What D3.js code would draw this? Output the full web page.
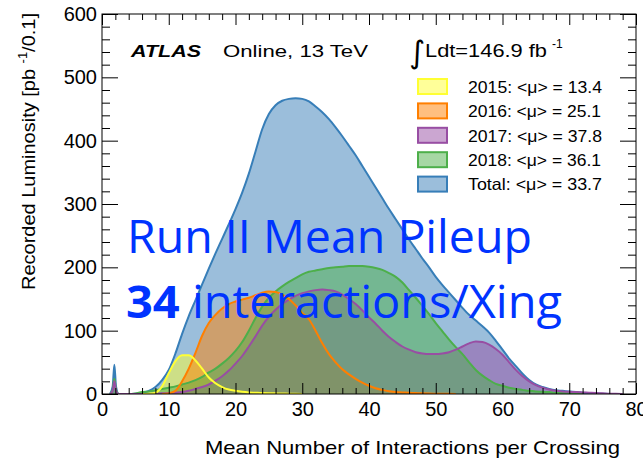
<!DOCTYPE html>
<html>
<head>
<meta charset="utf-8">
<script src="https://cdn.jsdelivr.net/npm/d3@7"></script>
<style>
  html, body { margin: 0; padding: 0; background: #fff; }
  svg { display: block; }
</style>
</head>
<body>
<svg id="chart" width="643" height="461"></svg>
<script>
// Mean number of interactions per crossing (bin centres used for the outline)
const mu = [0, 1.2, 1.6, 1.85, 2.1, 2.5,
  4, 5, 6, 7, 8, 9,
  10, 11, 12, 13, 14, 15, 16, 17, 18, 19,
  20, 21, 22, 23, 24, 25, 26, 27, 28, 29,
  30, 31, 32, 33, 34, 35, 36, 37, 38, 39,
  40, 41, 42, 43, 44, 45, 46, 47, 48, 49,
  50, 51, 52, 53, 54, 55, 56, 57, 58, 59,
  60, 61, 62, 63, 64, 65, 66, 67, 68, 69,
  70, 71, 72, 73, 74, 75, 76, 77, 78, 80];

// Recorded luminosity [pb^-1 / 0.1]
const lumiTotal = [0, 0, 12, 46, 12, 0,
  0, 0.5, 2, 5, 11, 22,
  38, 64, 95, 123, 148, 173, 198, 222, 245, 268,
  292, 318, 348, 383, 418, 442, 456, 463, 466, 467,
  466, 462, 454, 445, 434, 421, 407, 392, 377, 360,
  343, 326, 309, 292, 276, 260, 244, 229, 214, 200,
  185, 172, 160, 148, 136, 125, 116, 107, 97, 84,
  70, 56, 44, 32, 22, 15, 11, 8, 6, 5,
  4, 3, 2, 1.5, 1, 0.5, 0, 0, 0, 0];

const lumi2015 = [0, 0, 0, 0, 0, 0,
  0, 0, 0, 0.5, 2, 12,
  33, 52, 61, 61, 53, 40, 26, 17, 11, 7,
  5, 3.5, 2.5, 2, 1.5, 1.2, 1, 0.8, 0.5, 0.3,
  0, 0, 0, 0, 0, 0, 0, 0, 0, 0,
  0, 0, 0, 0, 0, 0, 0, 0, 0, 0,
  0, 0, 0, 0, 0, 0, 0, 0, 0, 0,
  0, 0, 0, 0, 0, 0, 0, 0, 0, 0,
  0, 0, 0, 0, 0, 0, 0, 0, 0, 0];

const lumi2016 = [0, 0, 0, 0, 0, 0,
  0, 0, 0, 0, 0, 0,
  1, 5, 20, 40, 65, 92, 112, 125, 135, 142,
  146, 149, 152, 156, 160, 162, 161, 157, 150, 140,
  128, 118, 100, 80, 63, 50, 39, 31, 24, 18,
  13, 9, 6.5, 4.5, 3, 2.5, 2, 1.5, 1, 0.7,
  0.5, 0.3, 0.2, 0, 0, 0, 0, 0, 0, 0,
  0, 0, 0, 0, 0, 0, 0, 0, 0, 0,
  0, 0, 0, 0, 0, 0, 0, 0, 0, 0];

const lumi2017 = [0, 0, 5, 20, 5, 0,
  0, 0, 0, 0, 0.5, 1,
  1.5, 2, 3, 5, 8, 11, 15, 21, 28, 37,
  48, 60, 75, 91, 108, 122, 133, 142, 149, 155,
  159, 162, 164, 165, 164, 162, 157, 150, 142, 132,
  121, 111, 100, 90, 82, 75, 70, 66, 64, 63,
  63, 64, 66, 70, 75, 80, 83, 82, 78, 71,
  62, 50, 38, 28, 20, 14, 10, 7, 5, 4,
  3.5, 3, 2.5, 2, 1.5, 1, 0.5, 0.2, 0, 0];

const lumi2018 = [0, 0, 6, 24, 6, 0,
  0, 1, 3, 4, 6, 8,
  10, 12, 15, 18, 22, 27, 34, 40, 48, 57,
  68, 82, 100, 120, 138, 152, 162, 170, 177, 183,
  189, 193, 195, 197, 199, 200, 201, 202, 202, 202,
  201, 199, 196, 191, 185, 176, 164, 152, 139, 126,
  112, 99, 86, 74, 63, 50, 38, 29, 22, 16,
  13, 10, 8, 6.5, 5, 4, 3.5, 3, 2, 1.5,
  1, 0.5, 0, 0, 0, 0, 0, 0, 0, 0];

const legendLabels = ["2015: <μ> = 13.4", "2016: <μ> = 25.1", "2017: <μ> = 37.8",
                      "2018: <μ> = 36.1", "Total: <μ> = 33.7"];
const xTickValues = [0, 10, 20, 30, 40, 50, 60, 70, 80];
const yTickValues = [0, 100, 200, 300, 400, 500, 600];

const series = [
  { key: "total", values: lumiTotal, color: "#377eb8" },
  { key: "2015",  values: lumi2015,  color: "#ffff33" },
  { key: "2016",  values: lumi2016,  color: "#ff7f00" },
  { key: "2017",  values: lumi2017,  color: "#984ea3" },
  { key: "2018",  values: lumi2018,  color: "#4daf4a" }
];

const svg = d3.select("#chart");
const plotLeft = 102, plotRight = 636, plotTop = 14, plotBottom = 394;
const font = "'Liberation Sans', Arial, Helvetica, sans-serif";

const x = d3.scaleLinear().domain([0, 80]).range([plotLeft, plotRight]);
const y = d3.scaleLinear().domain([0, 600]).range([plotBottom, plotTop]);

svg.append("defs").append("clipPath").attr("id", "plot-clip")
  .append("rect").attr("x", plotLeft).attr("y", plotTop)
  .attr("width", plotRight - plotLeft).attr("height", plotBottom - plotTop);

const plot = svg.append("g").attr("clip-path", "url(#plot-clip)");

// Filled histograms: total underneath, then the years in order
series.forEach(s => {
  const area = d3.area()
    .x((d, i) => x(mu[i]))
    .y0(y(0))
    .y1(d => y(d))
    .curve(d3.curveMonotoneX);
  plot.append("path")
    .datum(s.values)
    .attr("d", area)
    .attr("fill", s.color)
    .attr("fill-opacity", 0.5)
    .attr("stroke", "none");
});

// Outlines on top of all fills, drawn only over the populated range
[series[0], series[4], series[3], series[2], series[1]].forEach(s => {
  const nz = s.values.map((v, i) => v > 0 ? i : -1).filter(i => i >= 0);
  const lo = Math.max(0, nz[0] - 1), hi = Math.min(mu.length - 1, nz[nz.length - 1] + 1);
  const line = d3.line()
    .defined((d, i) => i >= lo && i <= hi)
    .x((d, i) => x(mu[i]))
    .y(d => y(d))
    .curve(d3.curveMonotoneX);
  plot.append("path")
    .datum(s.values)
    .attr("d", line)
    .attr("fill", "none")
    .attr("stroke", s.color)
    .attr("stroke-width", 2)
    .attr("stroke-linejoin", "round");
});

// Axes with inward ticks on all four sides
function styleAxis(g) {
  g.select(".domain").remove();
  g.attr("font-family", font).attr("font-size", 20);
  g.selectAll("line").attr("stroke", "#000");
  g.selectAll("text").attr("fill", "#000");
}
const xMinor = d3.range(0, 81, 2).filter(v => v % 10 !== 0);
const yMinor = d3.range(0, 601, 20).filter(v => v % 100 !== 0);

svg.append("g").attr("transform", `translate(0,${plotBottom})`)
  .call(d3.axisBottom(x).tickValues(xTickValues).tickSize(-11).tickPadding(8).tickFormat(d3.format("d")))
  .call(styleAxis);
svg.append("g").attr("transform", `translate(0,${plotBottom})`)
  .call(d3.axisBottom(x).tickValues(xMinor).tickSize(-6).tickFormat(""))
  .call(styleAxis);
svg.append("g").attr("transform", `translate(0,${plotTop})`)
  .call(d3.axisTop(x).tickValues(xTickValues).tickSize(-11).tickFormat(""))
  .call(styleAxis);
svg.append("g").attr("transform", `translate(0,${plotTop})`)
  .call(d3.axisTop(x).tickValues(xMinor).tickSize(-6).tickFormat(""))
  .call(styleAxis);

svg.append("g").attr("transform", `translate(${plotLeft},0)`)
  .call(d3.axisLeft(y).tickValues(yTickValues).tickSize(-16).tickPadding(5).tickFormat(d3.format("d")))
  .call(styleAxis);
svg.append("g").attr("transform", `translate(${plotLeft},0)`)
  .call(d3.axisLeft(y).tickValues(yMinor).tickSize(-8).tickFormat(""))
  .call(styleAxis);
svg.append("g").attr("transform", `translate(${plotRight},0)`)
  .call(d3.axisRight(y).tickValues(yTickValues).tickSize(-16).tickFormat(""))
  .call(styleAxis);
svg.append("g").attr("transform", `translate(${plotRight},0)`)
  .call(d3.axisRight(y).tickValues(yMinor).tickSize(-8).tickFormat(""))
  .call(styleAxis);

svg.append("rect")
  .attr("x", plotLeft).attr("y", plotTop)
  .attr("width", plotRight - plotLeft).attr("height", plotBottom - plotTop)
  .attr("fill", "none").attr("stroke", "#000").attr("stroke-width", 1);

// Axis titles (the wide ROOT Helvetica is approximated with a fitted text length)
svg.append("text")
  .attr("x", 205).attr("y", 454)
  .attr("font-family", font).attr("font-size", 18.5)
  .attr("textLength", 415).attr("lengthAdjust", "spacingAndGlyphs")
  .text("Mean Number of Interactions per Crossing");

const yTitle = svg.append("text")
  .attr("transform", "translate(35,290) rotate(-90)")
  .attr("font-family", font).attr("font-size", 18.5)
  .attr("textLength", 277).attr("lengthAdjust", "spacingAndGlyphs");
yTitle.append("tspan").text("Recorded Luminosity [pb ");
yTitle.append("tspan").attr("font-size", 12).attr("dy", -8).text("-1");
yTitle.append("tspan").attr("dy", 8).text("/0.1]");

// Experiment label
svg.append("text")
  .attr("x", 131).attr("y", 57)
  .attr("font-family", font).attr("font-size", 17)
  .attr("font-weight", "bold").attr("font-style", "italic")
  .attr("textLength", 70).attr("lengthAdjust", "spacingAndGlyphs")
  .text("ATLAS");
svg.append("text")
  .attr("x", 223).attr("y", 57)
  .attr("font-family", font).attr("font-size", 17)
  .attr("textLength", 145).attr("lengthAdjust", "spacingAndGlyphs")
  .text("Online, 13 TeV");

// Integrated luminosity
svg.append("text")
  .attr("x", 409).attr("y", 63)
  .attr("font-family", "'DejaVu Sans', sans-serif").attr("font-size", 31)
  .text("∫");
svg.append("text")
  .attr("x", 425).attr("y", 57)
  .attr("font-family", font).attr("font-size", 18)
  .attr("textLength", 122).attr("lengthAdjust", "spacingAndGlyphs")
  .text("Ldt=146.9 fb");
svg.append("text")
  .attr("x", 552).attr("y", 48)
  .attr("font-family", font).attr("font-size", 12)
  .text("-1");

// Legend
const legendItems = [series[1], series[2], series[3], series[4], series[0]];
const legendWidths = [134, 133, 134, 133, 134];
const legend = svg.append("g").attr("transform", "translate(418,79)");
legendItems.forEach((s, i) => {
  const g = legend.append("g").attr("transform", `translate(0,${i * 24.4})`);
  g.append("rect").attr("x", 0).attr("y", 0).attr("width", 29).attr("height", 15)
    .attr("fill", s.color).attr("fill-opacity", 0.5)
    .attr("stroke", s.color).attr("stroke-width", 2);
  g.append("text").attr("x", 50).attr("y", 13.7)
    .attr("font-family", font).attr("font-size", 16.5)
    .attr("textLength", legendWidths[i]).attr("lengthAdjust", "spacingAndGlyphs")
    .text(legendLabels[i]);
});

// Headline annotation
const note = "'Open Sans', 'Noto Sans', sans-serif";
svg.append("text")
  .attr("x", 127).attr("y", 253)
  .attr("font-family", note).attr("font-size", 45)
  .attr("fill", "#0033ff")
  .attr("textLength", 405).attr("lengthAdjust", "spacingAndGlyphs")
  .text("Run II Mean Pileup");
const line2 = svg.append("text")
  .attr("x", 126).attr("y", 318)
  .attr("font-family", note).attr("font-size", 45)
  .attr("fill", "#0033ff")
  .attr("textLength", 436).attr("lengthAdjust", "spacingAndGlyphs");
line2.append("tspan").attr("font-weight", "bold").text("34");
line2.append("tspan").text(" interactions/Xing");
</script>
</body>
</html>
